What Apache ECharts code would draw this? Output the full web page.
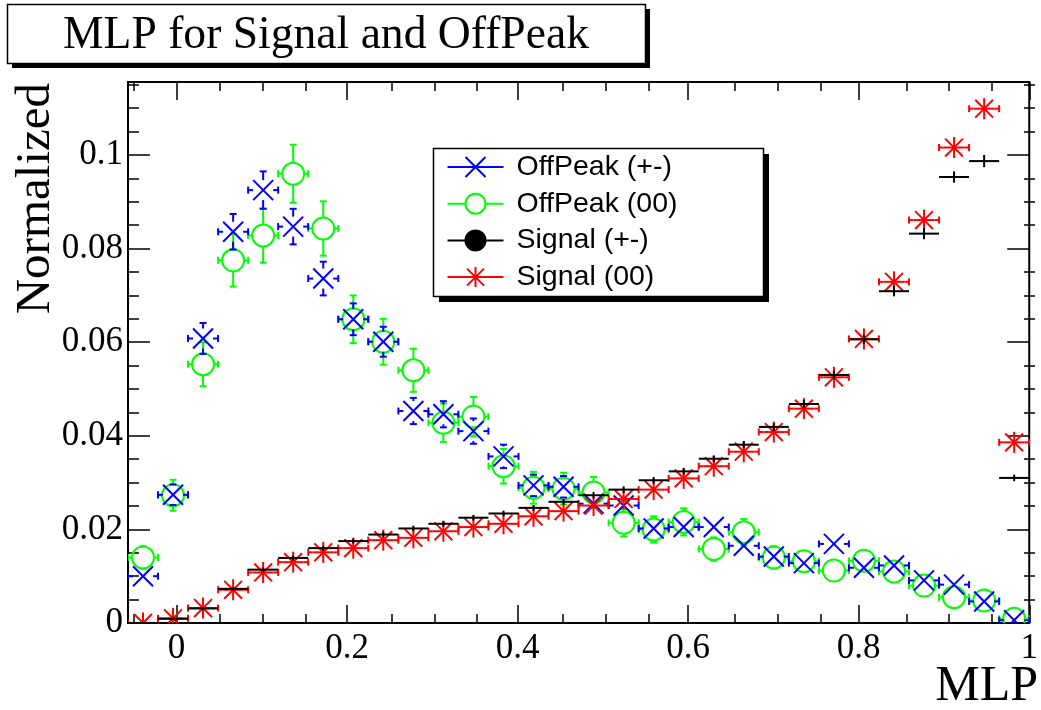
<!DOCTYPE html>
<html>
<head>
<meta charset="utf-8">
<title>MLP for Signal and OffPeak</title>
<script src="https://cdn.jsdelivr.net/npm/echarts@6/dist/echarts.min.js"></script>
<style>
  html, body { margin: 0; padding: 0; background: #fff; }
  #chart { width: 1041px; height: 710px; }
</style>
</head>
<body>
<div id="chart"></div>
<script>
// histogram range, 30 bins of MLP output
const xMin = -0.057;
const xMax = 1.0;
const yMax = 0.1156;
const binWidth = 0.0352;
const binCenters = [-0.0394, -0.0042, 0.0310, 0.0663, 0.1015, 0.1367, 0.1720, 0.2072, 0.2424, 0.2777,
  0.3129, 0.3481, 0.3834, 0.4186, 0.4538, 0.4890, 0.5243, 0.5595, 0.5947, 0.6300,
  0.6652, 0.7004, 0.7357, 0.7709, 0.8061, 0.8414, 0.8766, 0.9118, 0.9471, 0.9823];

// OffPeak (+-)
const offPeakPM = [0.0100, 0.0274, 0.0608, 0.0836, 0.0925, 0.0847, 0.0736, 0.0649, 0.0601, 0.0453,
  0.0446, 0.0410, 0.0356, 0.0294, 0.0291, 0.0255, 0.0251, 0.0202, 0.0205, 0.0205,
  0.0165, 0.0142, 0.0128, 0.0169, 0.0118, 0.0123, 0.0091, 0.0082, 0.0046, 0.0006];
const offPeakPMErr = [0.0013, 0.0022, 0.0033, 0.0038, 0.0040, 0.0038, 0.0036, 0.0034, 0.0032, 0.0028,
  0.0028, 0.0027, 0.0025, 0.0023, 0.0023, 0.0021, 0.0021, 0.0019, 0.0019, 0.0019,
  0.0017, 0.0016, 0.0015, 0.0017, 0.0014, 0.0015, 0.0013, 0.0012, 0.0009, 0.0003];
// OffPeak (00)
const offPeak00 = [0.0140, 0.0273, 0.0553, 0.0775, 0.0828, 0.0960, 0.0843, 0.0649, 0.0601, 0.0540,
  0.0428, 0.0441, 0.0335, 0.0289, 0.0287, 0.0279, 0.0214, 0.0200, 0.0216, 0.0158,
  0.0194, 0.0140, 0.0132, 0.0112, 0.0133, 0.0110, 0.0080, 0.0055, 0.0048, 0.0009];
const offPeak00Err = [0.0024, 0.0033, 0.0047, 0.0056, 0.0058, 0.0062, 0.0058, 0.0051, 0.0049, 0.0046,
  0.0041, 0.0042, 0.0037, 0.0034, 0.0034, 0.0033, 0.0029, 0.0028, 0.0029, 0.0025,
  0.0028, 0.0024, 0.0023, 0.0021, 0.0023, 0.0021, 0.0018, 0.0015, 0.0014, 0.0006];
// Signal (+-)
const signalPM = [0.0000, 0.0009, 0.0031, 0.0073, 0.0114, 0.0139, 0.0160, 0.0175, 0.0189, 0.0202,
  0.0212, 0.0225, 0.0234, 0.0246, 0.0259, 0.0273, 0.0285, 0.0305, 0.0324, 0.0351,
  0.0381, 0.0419, 0.0468, 0.0530, 0.0606, 0.0709, 0.0832, 0.0953, 0.0987, 0.0310];
const signalPMErr = [0.0000, 0.0001, 0.0002, 0.0003, 0.0004, 0.0005, 0.0005, 0.0005, 0.0006, 0.0006,
  0.0006, 0.0006, 0.0006, 0.0006, 0.0006, 0.0007, 0.0007, 0.0007, 0.0007, 0.0007,
  0.0008, 0.0008, 0.0009, 0.0009, 0.0010, 0.0011, 0.0012, 0.0012, 0.0013, 0.0007];
// Signal (00)
const signal00 = [0.0000, 0.0010, 0.0032, 0.0071, 0.0108, 0.0130, 0.0151, 0.0160, 0.0177, 0.0182,
  0.0196, 0.0205, 0.0212, 0.0228, 0.0239, 0.0251, 0.0265, 0.0285, 0.0309, 0.0335,
  0.0366, 0.0408, 0.0458, 0.0525, 0.0607, 0.0729, 0.0861, 0.1016, 0.1099, 0.0386];
const signal00Err = [0.0000, 0.0001, 0.0002, 0.0003, 0.0004, 0.0005, 0.0005, 0.0005, 0.0005, 0.0005,
  0.0006, 0.0006, 0.0006, 0.0006, 0.0006, 0.0006, 0.0007, 0.0007, 0.0007, 0.0007,
  0.0008, 0.0008, 0.0009, 0.0009, 0.0010, 0.0011, 0.0012, 0.0013, 0.0013, 0.0008];

const xMajorTicks = [0, 0.2, 0.4, 0.6, 0.8, 1];
const xMinorTicks = [-0.05, 0.05, 0.1, 0.15, 0.25, 0.3, 0.35, 0.45, 0.5, 0.55, 0.65, 0.7, 0.75, 0.85, 0.9, 0.95];
const yMajorTicks = [0, 0.02, 0.04, 0.06, 0.08, 0.1];
const yMinorTicks = [0.005, 0.01, 0.015, 0.025, 0.03, 0.035, 0.045, 0.05, 0.055, 0.065, 0.07, 0.075,
  0.085, 0.09, 0.095, 0.105, 0.11, 0.115];

const BLUE = '#0000ff', GREEN = '#00ff00', RED = '#ff0000', BLACK = '#000000';
const SERIF = '"Liberation Serif", "Times New Roman", serif';
const SANS = '"Liberation Sans", Arial, sans-serif';
const CAP = 3.5;
const halfBin = binWidth / 2;

// ROOT style point: marker + error bars (bars stop at the marker edge)
function makeRenderItem(kind, color, r) {
  return function (params, api) {
    const x = api.value(0), y = api.value(1), e = api.value(2);
    const c = api.coord([x, y]);
    const xl = api.coord([x - halfBin, y])[0];
    const xr = api.coord([x + halfBin, y])[0];
    const yt = api.coord([x, y + e])[1];
    const yb = api.coord([x, y - e])[1];
    const st = { stroke: color, lineWidth: 2, fill: null };
    const kids = [];
    const seg = (x1, y1, x2, y2) => kids.push({ type: 'line', shape: { x1, y1, x2, y2 }, style: st });

    if (kind === 'none') {
      seg(xl, c[1], xr, c[1]);
      if (yb - yt > 1) seg(c[0], yt, c[0], yb);
      return { type: 'group', children: kids };
    }
    // horizontal bar
    seg(xl, c[1], c[0] - r, c[1]);
    seg(c[0] + r, c[1], xr, c[1]);
    seg(xl, c[1] - CAP, xl, c[1] + CAP);
    seg(xr, c[1] - CAP, xr, c[1] + CAP);
    // vertical bar, only outside the marker
    if (c[1] - yt > r) {
      seg(c[0], yt, c[0], c[1] - r);
      seg(c[0] - CAP, yt, c[0] + CAP, yt);
    }
    if (yb - c[1] > r) {
      seg(c[0], c[1] + r, c[0], yb);
      seg(c[0] - CAP, yb, c[0] + CAP, yb);
    }
    // marker
    if (kind === 'x') {
      seg(c[0] - r, c[1] - r, c[0] + r, c[1] + r);
      seg(c[0] - r, c[1] + r, c[0] + r, c[1] - r);
    } else if (kind === 'circle') {
      kids.push({ type: 'circle', shape: { cx: c[0], cy: c[1], r: r }, style: st });
    } else if (kind === 'star') {
      const d = r * 0.85;
      seg(c[0] - r, c[1], c[0] + r, c[1]);
      seg(c[0], c[1] - r, c[0], c[1] + r);
      seg(c[0] - d, c[1] - d, c[0] + d, c[1] + d);
      seg(c[0] - d, c[1] + d, c[0] + d, c[1] - d);
    }
    return { type: 'group', children: kids };
  };
}

const toData = (vals, errs) => binCenters.map((x, i) => [x, vals[i], errs[i]]);

function xAxisDef(pos, ticks, len, labels, gridIndex) {
  return {
    type: 'value', gridIndex, position: pos, min: xMin, max: xMax,
    axisLine: { show: false, onZero: false }, splitLine: { show: false },
    axisTick: { show: true, inside: true, length: len, customValues: ticks, lineStyle: { color: BLACK, width: 1.5 } },
    axisLabel: labels
      ? { show: true, customValues: ticks, fontFamily: SERIF, fontSize: 35, color: BLACK, margin: 8 }
      : { show: false }
  };
}
function yAxisDef(pos, ticks, len, labels, gridIndex) {
  return {
    type: 'value', gridIndex, position: pos, min: 0, max: yMax,
    axisLine: { show: false, onZero: false }, splitLine: { show: false },
    axisTick: { show: true, inside: true, length: len, customValues: ticks, lineStyle: { color: BLACK, width: 1.5 } },
    axisLabel: labels
      ? { show: true, customValues: ticks, fontFamily: SERIF, fontSize: 35, color: BLACK, margin: 5 }
      : { show: false }
  };
}

const gridBox = { left: 128, top: 82, right: 6, bottom: 87 };

const myChart = echarts.init(document.getElementById('chart'));
const option = {
  animation: false,
  backgroundColor: '#fff',
  title: {
    text: 'MLP for Signal and OffPeak',
    left: 63, top: 13, padding: 0,
    textStyle: { fontFamily: SERIF, fontWeight: 'normal', fontSize: 45.6, lineHeight: 46, color: BLACK }
  },
  legend: {
    orient: 'vertical', left: 433, top: 148,
    padding: [4, 10, 4, 12],
    itemWidth: 72, itemHeight: 20, itemGap: 6.7,
    symbolKeepAspect: true,
    selectedMode: false,
    textStyle: { fontFamily: SANS, fontSize: 28.5, lineHeight: 30, color: BLACK },
    data: [
      { name: 'OffPeak (+-)', icon: 'path://M0,10 L56,10 M18,0 L38,20 M18,20 L38,0',
        itemStyle: { color: 'none', borderColor: BLUE, borderWidth: 2 } },
      { name: 'OffPeak (00)', icon: 'path://M0,10 L18,10 M38,10 L56,10 M18,10 A10,10 0 1,0 38,10 A10,10 0 1,0 18,10',
        itemStyle: { color: 'none', borderColor: GREEN, borderWidth: 2 } },
      { name: 'Signal (+-)', icon: 'path://M0,10 L56,10 M18,10 A10,10 0 1,0 38,10 A10,10 0 1,0 18,10 Z',
        itemStyle: { color: BLACK, borderColor: BLACK, borderWidth: 2 } },
      { name: 'Signal (00)', icon: 'path://M0,10 L56,10 M28,0 L28,20 M19.5,1.5 L36.5,18.5 M19.5,18.5 L36.5,1.5',
        itemStyle: { color: 'none', borderColor: RED, borderWidth: 2 } }
    ]
  },
  grid: [
    Object.assign({ show: true, borderColor: BLACK, borderWidth: 2, backgroundColor: 'transparent' }, gridBox),
    Object.assign({ show: false }, gridBox)
  ],
  xAxis: [
    xAxisDef('bottom', xMajorTicks, 18, true, 0),
    xAxisDef('top', xMajorTicks, 18, false, 0),
    xAxisDef('bottom', xMinorTicks, 9, false, 1),
    xAxisDef('top', xMinorTicks, 9, false, 1)
  ],
  yAxis: [
    yAxisDef('left', yMajorTicks, 22, true, 0),
    yAxisDef('right', yMajorTicks, 22, false, 0),
    yAxisDef('left', yMinorTicks, 11, false, 1),
    yAxisDef('right', yMinorTicks, 11, false, 1)
  ],
  graphic: [
    // title box with ROOT style shadow
    { type: 'rect', shape: { x: 12, y: 9, width: 638, height: 59 }, style: { fill: BLACK } },
    { type: 'rect', shape: { x: 7.5, y: 4.5, width: 638, height: 59 }, style: { fill: '#fff', stroke: BLACK, lineWidth: 1.5 } },
    // legend box with shadow
    { type: 'rect', shape: { x: 439, y: 154, width: 330, height: 148 }, style: { fill: BLACK } },
    { type: 'rect', shape: { x: 433.5, y: 148.5, width: 330, height: 148 }, style: { fill: '#fff', stroke: BLACK, lineWidth: 1.5 } },
    // axis titles
    { type: 'text', x: 36, y: 83, rotation: Math.PI / 2,
      style: { text: 'Normalized', font: '49px ' + SERIF, fill: BLACK, align: 'right', verticalAlign: 'middle' } },
    { type: 'text', x: 1038, y: 687,
      style: { text: 'MLP', font: '50px ' + SERIF, fill: BLACK, align: 'right', verticalAlign: 'middle' } }
  ],
  series: [
    { type: 'custom', name: 'OffPeak (00)', xAxisIndex: 0, yAxisIndex: 0, clip: true,
      itemStyle: { color: GREEN }, encode: { x: 0, y: 1 },
      renderItem: makeRenderItem('circle', GREEN, 11), data: toData(offPeak00, offPeak00Err) },
    { type: 'custom', name: 'OffPeak (+-)', xAxisIndex: 0, yAxisIndex: 0, clip: true,
      itemStyle: { color: BLUE }, encode: { x: 0, y: 1 },
      renderItem: makeRenderItem('x', BLUE, 10), data: toData(offPeakPM, offPeakPMErr) },
    { type: 'custom', name: 'Signal (00)', xAxisIndex: 0, yAxisIndex: 0, clip: true,
      itemStyle: { color: RED }, encode: { x: 0, y: 1 },
      renderItem: makeRenderItem('star', RED, 10.5), data: toData(signal00, signal00Err) },
    { type: 'custom', name: 'Signal (+-)', xAxisIndex: 0, yAxisIndex: 0, clip: true,
      itemStyle: { color: BLACK }, encode: { x: 0, y: 1 },
      renderItem: makeRenderItem('none', BLACK, 0), data: toData(signalPM, signalPMErr) }
  ]
};
myChart.setOption(option);
</script>
</body>
</html>
